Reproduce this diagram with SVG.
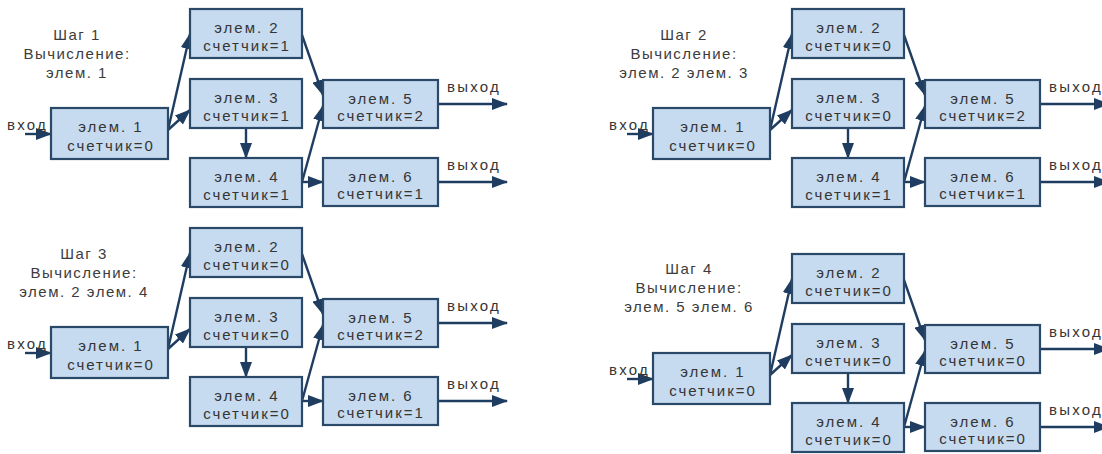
<svg xmlns="http://www.w3.org/2000/svg" width="1102" height="454" viewBox="0 0 1102 454">
<style>
.bg{fill:#ffffff}
.box{fill:#c6daf0;stroke:#2a4868;stroke-width:2.2}
.t{font-family:"Liberation Sans",Arial,sans-serif;font-size:15px;fill:#353535;text-anchor:middle;letter-spacing:2px}
.lbl{font-family:"Liberation Sans",Arial,sans-serif;font-size:15px;fill:#353535;letter-spacing:2.2px}
.ttl{font-family:"Liberation Sans",Arial,sans-serif;font-size:15px;fill:#3c3c3c;text-anchor:middle;letter-spacing:1.5px}
.c{stroke:#1f3d60;stroke-width:2.4;fill:none;marker-end:url(#ah)}
</style>
<defs>
<marker id="ah" markerUnits="userSpaceOnUse" markerWidth="16" markerHeight="12" refX="15" refY="6" orient="auto">
<path d="M0,0 L16,6 L0,12 Z" fill="#1f3d60"/>
</marker>
</defs>
<rect class="bg" x="0" y="0" width="1102" height="454"/>

<!-- Panel 1 -->
<g id="panel1" transform="translate(0,0)">
<g id="p1-title">
<text class="ttl" x="77" y="40">Шаг 1</text>
<text class="ttl" x="77" y="59">Вычисление:</text>
<text class="ttl" x="77" y="78">элем. 1</text>
</g>
<g id="p1-connectors">
<line class="c" x1="25" y1="134" x2="51" y2="134"/>
<line class="c" x1="168" y1="130" x2="190" y2="34"/>
<line class="c" x1="168" y1="130" x2="190" y2="110"/>
<line class="c" x1="246" y1="128" x2="246" y2="158"/>
<line class="c" x1="302" y1="35" x2="323" y2="95"/>
<line class="c" x1="302" y1="182" x2="323" y2="106"/>
<line class="c" x1="302" y1="182" x2="323" y2="182"/>
<line class="c" x1="438" y1="104" x2="507" y2="104"/>
<line class="c" x1="438" y1="182" x2="507" y2="182"/>
<text class="lbl" x="7" y="130">вход</text>
<text class="lbl" x="447" y="92">выход</text>
<text class="lbl" x="447" y="170">выход</text>
</g>
<g id="p1-e1"><rect class="box" x="51" y="108" width="117" height="51"/><text class="t" x="111" y="132">элем. 1</text><text class="t" x="111" y="151">счетчик=0</text></g>
<g id="p1-e2"><rect class="box" x="190" y="9" width="112" height="49"/><text class="t" x="247" y="33">элем. 2</text><text class="t" x="247" y="51">счетчик=1</text></g>
<g id="p1-e3"><rect class="box" x="190" y="79" width="112" height="49"/><text class="t" x="247" y="103">элем. 3</text><text class="t" x="247" y="121">счетчик=1</text></g>
<g id="p1-e4"><rect class="box" x="190" y="158" width="112" height="49"/><text class="t" x="247" y="182">элем. 4</text><text class="t" x="247" y="200">счетчик=1</text></g>
<g id="p1-e5"><rect class="box" x="323" y="80" width="115" height="48"/><text class="t" x="381" y="104">элем. 5</text><text class="t" x="381" y="121">счетчик=2</text></g>
<g id="p1-e6"><rect class="box" x="323" y="158" width="115" height="48"/><text class="t" x="381" y="182">элем. 6</text><text class="t" x="381" y="199">счетчик=1</text></g>
</g>

<!-- Panel 2 -->
<g id="panel2" transform="translate(602,0)">
<g id="p2-title">
<text class="ttl" x="82" y="40">Шаг 2</text>
<text class="ttl" x="82" y="59">Вычисление:</text>
<text class="ttl" x="82" y="78">элем. 2 элем. 3</text>
</g>
<g id="p2-connectors">
<line class="c" x1="25" y1="134" x2="51" y2="134"/>
<line class="c" x1="168" y1="130" x2="190" y2="34"/>
<line class="c" x1="168" y1="130" x2="190" y2="110"/>
<line class="c" x1="246" y1="128" x2="246" y2="158"/>
<line class="c" x1="302" y1="35" x2="323" y2="95"/>
<line class="c" x1="302" y1="182" x2="323" y2="106"/>
<line class="c" x1="302" y1="182" x2="323" y2="182"/>
<line class="c" x1="438" y1="104" x2="507" y2="104"/>
<line class="c" x1="438" y1="182" x2="507" y2="182"/>
<text class="lbl" x="7" y="130">вход</text>
<text class="lbl" x="447" y="92">выход</text>
<text class="lbl" x="447" y="170">выход</text>
</g>
<g id="p2-e1"><rect class="box" x="51" y="108" width="117" height="51"/><text class="t" x="111" y="132">элем. 1</text><text class="t" x="111" y="151">счетчик=0</text></g>
<g id="p2-e2"><rect class="box" x="190" y="9" width="112" height="49"/><text class="t" x="247" y="33">элем. 2</text><text class="t" x="247" y="51">счетчик=0</text></g>
<g id="p2-e3"><rect class="box" x="190" y="79" width="112" height="49"/><text class="t" x="247" y="103">элем. 3</text><text class="t" x="247" y="121">счетчик=0</text></g>
<g id="p2-e4"><rect class="box" x="190" y="158" width="112" height="49"/><text class="t" x="247" y="182">элем. 4</text><text class="t" x="247" y="200">счетчик=1</text></g>
<g id="p2-e5"><rect class="box" x="323" y="80" width="115" height="48"/><text class="t" x="381" y="104">элем. 5</text><text class="t" x="381" y="121">счетчик=2</text></g>
<g id="p2-e6"><rect class="box" x="323" y="158" width="115" height="48"/><text class="t" x="381" y="182">элем. 6</text><text class="t" x="381" y="199">счетчик=1</text></g>
</g>

<!-- Panel 3 -->
<g id="panel3" transform="translate(0,219)">
<g id="p3-title">
<text class="ttl" x="84" y="40">Шаг 3</text>
<text class="ttl" x="84" y="59">Вычисление:</text>
<text class="ttl" x="84" y="78">элем. 2 элем. 4</text>
</g>
<g id="p3-connectors">
<line class="c" x1="25" y1="134" x2="51" y2="134"/>
<line class="c" x1="168" y1="130" x2="190" y2="34"/>
<line class="c" x1="168" y1="130" x2="190" y2="110"/>
<line class="c" x1="246" y1="128" x2="246" y2="158"/>
<line class="c" x1="302" y1="35" x2="323" y2="95"/>
<line class="c" x1="302" y1="182" x2="323" y2="106"/>
<line class="c" x1="302" y1="182" x2="323" y2="182"/>
<line class="c" x1="438" y1="104" x2="507" y2="104"/>
<line class="c" x1="438" y1="182" x2="507" y2="182"/>
<text class="lbl" x="7" y="130">вход</text>
<text class="lbl" x="447" y="92">выход</text>
<text class="lbl" x="447" y="170">выход</text>
</g>
<g id="p3-e1"><rect class="box" x="51" y="108" width="117" height="51"/><text class="t" x="111" y="132">элем. 1</text><text class="t" x="111" y="151">счетчик=0</text></g>
<g id="p3-e2"><rect class="box" x="190" y="9" width="112" height="49"/><text class="t" x="247" y="33">элем. 2</text><text class="t" x="247" y="51">счетчик=0</text></g>
<g id="p3-e3"><rect class="box" x="190" y="79" width="112" height="49"/><text class="t" x="247" y="103">элем. 3</text><text class="t" x="247" y="121">счетчик=0</text></g>
<g id="p3-e4"><rect class="box" x="190" y="158" width="112" height="49"/><text class="t" x="247" y="182">элем. 4</text><text class="t" x="247" y="200">счетчик=0</text></g>
<g id="p3-e5"><rect class="box" x="323" y="80" width="115" height="48"/><text class="t" x="381" y="104">элем. 5</text><text class="t" x="381" y="121">счетчик=2</text></g>
<g id="p3-e6"><rect class="box" x="323" y="158" width="115" height="48"/><text class="t" x="381" y="182">элем. 6</text><text class="t" x="381" y="199">счетчик=1</text></g>
</g>

<!-- Panel 4 -->
<g id="panel4" transform="translate(602,245)">
<g id="p4-title">
<text class="ttl" x="87" y="29">Шаг 4</text>
<text class="ttl" x="87" y="48">Вычисление:</text>
<text class="ttl" x="87" y="67">элем. 5 элем. 6</text>
</g>
<g id="p4-connectors">
<line class="c" x1="25" y1="134" x2="51" y2="134"/>
<line class="c" x1="168" y1="130" x2="190" y2="34"/>
<line class="c" x1="168" y1="130" x2="190" y2="110"/>
<line class="c" x1="246" y1="128" x2="246" y2="158"/>
<line class="c" x1="302" y1="35" x2="323" y2="95"/>
<line class="c" x1="302" y1="182" x2="323" y2="106"/>
<line class="c" x1="302" y1="182" x2="323" y2="182"/>
<line class="c" x1="438" y1="104" x2="507" y2="104"/>
<line class="c" x1="438" y1="182" x2="507" y2="182"/>
<text class="lbl" x="7" y="130">вход</text>
<text class="lbl" x="447" y="92">выход</text>
<text class="lbl" x="447" y="170">выход</text>
</g>
<g id="p4-e1"><rect class="box" x="51" y="108" width="117" height="51"/><text class="t" x="111" y="132">элем. 1</text><text class="t" x="111" y="151">счетчик=0</text></g>
<g id="p4-e2"><rect class="box" x="190" y="9" width="112" height="49"/><text class="t" x="247" y="33">элем. 2</text><text class="t" x="247" y="51">счетчик=0</text></g>
<g id="p4-e3"><rect class="box" x="190" y="79" width="112" height="49"/><text class="t" x="247" y="103">элем. 3</text><text class="t" x="247" y="121">счетчик=0</text></g>
<g id="p4-e4"><rect class="box" x="190" y="158" width="112" height="49"/><text class="t" x="247" y="182">элем. 4</text><text class="t" x="247" y="200">счетчик=0</text></g>
<g id="p4-e5"><rect class="box" x="323" y="80" width="115" height="48"/><text class="t" x="381" y="104">элем. 5</text><text class="t" x="381" y="121">счетчик=0</text></g>
<g id="p4-e6"><rect class="box" x="323" y="158" width="115" height="48"/><text class="t" x="381" y="182">элем. 6</text><text class="t" x="381" y="199">счетчик=0</text></g>
</g>
</svg>
